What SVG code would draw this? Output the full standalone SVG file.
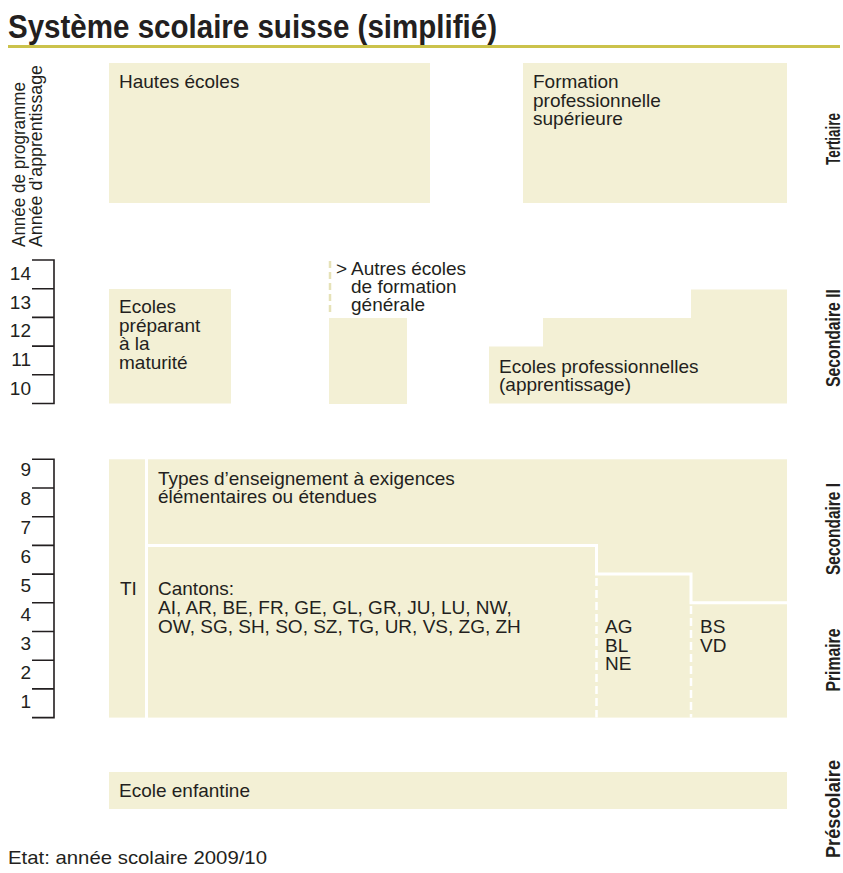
<svg xmlns="http://www.w3.org/2000/svg" width="843" height="873" viewBox="0 0 843 873">
<style>
.bg{fill:#ffffff}
.box{fill:#f3f0d5}
.t{font-family:"Liberation Sans",Arial,sans-serif;font-size:19px;fill:#231f20}
.num{font-family:"Liberation Sans",Arial,sans-serif;font-size:19px;fill:#231f20;text-anchor:end}
.lv{font-family:"Liberation Sans",Arial,sans-serif;font-size:20px;font-weight:bold;fill:#231f20;text-anchor:middle}
.ax{stroke:#231f20;stroke-width:1.6;fill:none}
.div{stroke:#ffffff;stroke-width:3;fill:none}
.dash{stroke:#ffffff;stroke-width:2.5;stroke-dasharray:8 4;fill:none}
.dashy{stroke:#e6e2b8;stroke-width:2.5;stroke-dasharray:7 4;fill:none}
</style>
<rect class="bg" x="0" y="0" width="843" height="873"/>

<g id="title">
<text x="8" y="38" font-family="Liberation Sans, Arial, sans-serif" font-size="33" font-weight="bold" fill="#231f20" textLength="489" lengthAdjust="spacingAndGlyphs">Système scolaire suisse (simplifié)</text>
<line x1="8" y1="46.5" x2="840" y2="46.5" stroke="#cbc24b" stroke-width="3"/>
</g>

<g id="axis-title">
<text class="t" font-size="19" transform="translate(25,247) rotate(-90)" textLength="165" lengthAdjust="spacingAndGlyphs">Année de programme</text>
<text class="t" font-size="19" transform="translate(42,247) rotate(-90)" textLength="182" lengthAdjust="spacingAndGlyphs">Année d’apprentissage</text>
</g>

<g id="axis-upper">
<path class="ax" d="M32,260 H54 V403.5 H32 M32,288.7 H54 M32,317.4 H54 M32,346.1 H54 M32,374.8 H54"/>
<text class="num" x="31" y="280">14</text>
<text class="num" x="31" y="308.5">13</text>
<text class="num" x="31" y="337">12</text>
<text class="num" x="31" y="366">11</text>
<text class="num" x="31" y="395">10</text>
</g>

<g id="axis-lower">
<path class="ax" d="M32,459.3 H54 V717.6 H32 M32,488 H54 M32,516.7 H54 M32,545.4 H54 M32,574.1 H54 M32,602.8 H54 M32,631.5 H54 M32,660.2 H54 M32,688.9 H54"/>
<text class="num" x="31" y="476">9</text>
<text class="num" x="31" y="505">8</text>
<text class="num" x="31" y="534">7</text>
<text class="num" x="31" y="563">6</text>
<text class="num" x="31" y="592">5</text>
<text class="num" x="31" y="621">4</text>
<text class="num" x="31" y="650">3</text>
<text class="num" x="31" y="679">2</text>
<text class="num" x="31" y="708">1</text>
</g>

<g id="hautes-ecoles">
<rect class="box" x="109" y="63" width="321" height="140"/>
<text class="t" x="119" y="88">Hautes écoles</text>
</g>

<g id="formation-pro-sup">
<rect class="box" x="523" y="63" width="264" height="140"/>
<text class="t" x="533" y="88">Formation</text>
<text class="t" x="533" y="106.5">professionnelle</text>
<text class="t" x="533" y="125">supérieure</text>
</g>

<g id="ecoles-maturite">
<rect class="box" x="109" y="289" width="122" height="114.5"/>
<text class="t" x="119" y="313">Ecoles</text>
<text class="t" x="119" y="331.5">préparant</text>
<text class="t" x="119" y="350">à la</text>
<text class="t" x="119" y="368.5">maturité</text>
</g>

<g id="autres-ecoles">
<rect class="box" x="329" y="318" width="78" height="86"/>
<line class="dashy" x1="330" y1="261" x2="330" y2="314"/>
<text class="t" x="336" y="275">&gt;</text>
<text class="t" x="351" y="275">Autres écoles</text>
<text class="t" x="351" y="293">de formation</text>
<text class="t" x="351" y="311">générale</text>
</g>

<g id="ecoles-pro">
<path class="box" d="M489,346.5 H543 V318 H691 V289.5 H787 V403.5 H489 Z"/>
<text class="t" x="499" y="373">Ecoles professionnelles</text>
<text class="t" x="499" y="391">(apprentissage)</text>
</g>

<g id="ti">
<rect class="box" x="109" y="459.3" width="36" height="258.3"/>
<text class="t" x="120" y="595">TI</text>
</g>

<g id="obligatoire">
<rect class="box" x="148" y="459.3" width="639" height="258.3"/>
<text class="t" x="158" y="484.5">Types d’enseignement à exigences</text>
<text class="t" x="158" y="503">élémentaires ou étendues</text>
<text class="t" x="158" y="595">Cantons:</text>
<text class="t" x="158" y="614">AI, AR, BE, FR, GE, GL, GR, JU, LU, NW,</text>
<text class="t" x="158" y="633">OW, SG, SH, SO, SZ, TG, UR, VS, ZG, ZH</text>
<text class="t" x="605" y="633">AG</text>
<text class="t" x="605" y="651.5">BL</text>
<text class="t" x="605" y="670">NE</text>
<text class="t" x="700" y="633">BS</text>
<text class="t" x="700" y="651.5">VD</text>
</g>

<g id="dividers">
<path class="div" d="M148,545.4 H596.5 V574.1 H691 V602.8 H787"/>
<path class="dash" d="M596.5,578 V717.6"/>
<path class="dash" d="M691,606 V717.6"/>
</g>

<g id="ecole-enfantine">
<rect class="box" x="109" y="772" width="678" height="37"/>
<text class="t" x="119" y="797">Ecole enfantine</text>
</g>

<g id="levels">
<text class="lv" transform="translate(840,139) rotate(-90)" textLength="52" lengthAdjust="spacingAndGlyphs">Tertiaire</text>
<text class="lv" transform="translate(840,338) rotate(-90)" textLength="98" lengthAdjust="spacingAndGlyphs">Secondaire II</text>
<text class="lv" transform="translate(840,529) rotate(-90)" textLength="92" lengthAdjust="spacingAndGlyphs">Secondaire I</text>
<text class="lv" transform="translate(840,660) rotate(-90)" textLength="63" lengthAdjust="spacingAndGlyphs">Primaire</text>
<text class="lv" transform="translate(840,809) rotate(-90)" textLength="98" lengthAdjust="spacingAndGlyphs">Préscolaire</text>
</g>

<g id="footer">
<text class="t" x="8" y="864" font-size="18" textLength="259" lengthAdjust="spacingAndGlyphs">Etat: année scolaire 2009/10</text>
</g>
</svg>
